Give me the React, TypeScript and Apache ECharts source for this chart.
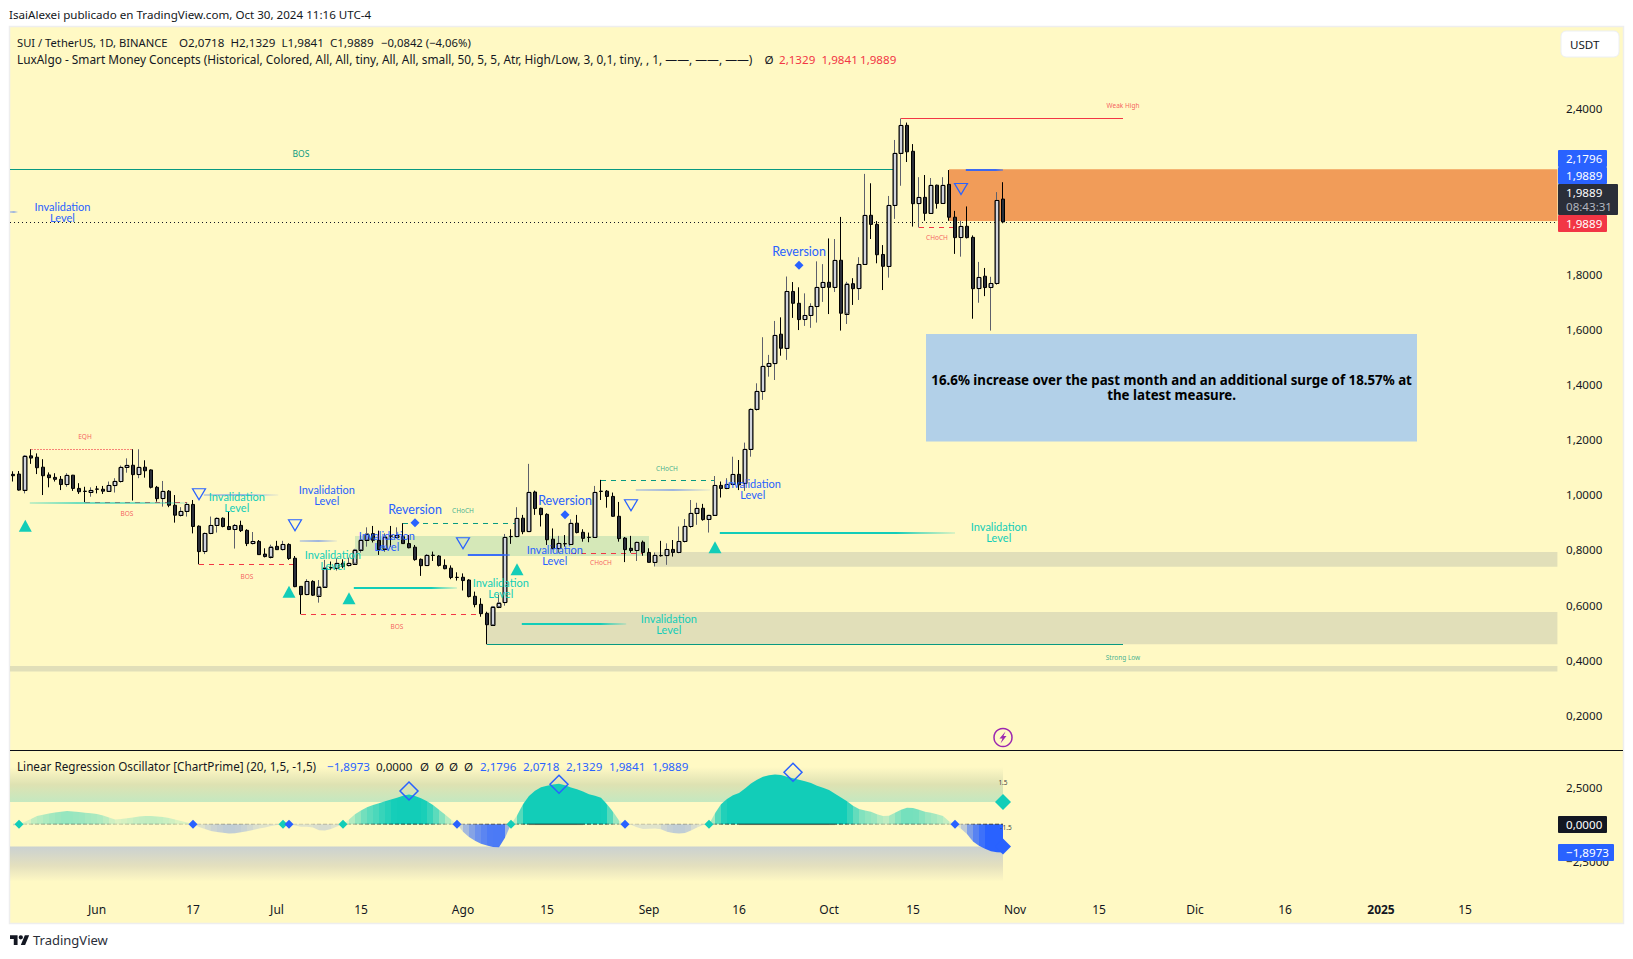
import React, { useEffect, useRef } from 'react';
import * as echarts from 'echarts';

const FF = '"Noto Sans", sans-serif';
const LF = 'Lato, "Noto Sans", sans-serif';
const INK = '#131722';
const BLUE = '#2962ff';
const TEAL = '#12cdb8';
const GREEN = '#089981';
const RED = '#f23645';

// [open, close, low, high]
const candlesMay = [
  [1.074,1.069,1.048,1.085],[1.075,1.017,1.015,1.086],[1.017,1.141,1.005,1.144],[1.141,1.133,1.112,1.165],[1.136,1.098,1.075,1.150],
  [1.100,1.069,.999,1.129],[1.072,1.062,1.027,1.081],[1.063,1.056,1.048,1.078],[1.056,1.037,1.017,1.068],[1.037,1.071,1.029,1.078],
  [1.071,1.023,1.014,1.072],[1.023,1.011,1.003,1.042],[1.013,1.012,.973,1.029],[1.009,1.016,.993,1.027],
];
const candlesJun = [
  [1.021,1.020,1.005,1.032],[1.020,1.013,1.003,1.032],[1.013,1.034,1.011,1.048],[1.033,1.049,1.008,1.060],[1.048,1.100,1.044,1.106],
  [1.100,1.107,1.080,1.132],[1.107,1.073,.979,1.165],[1.073,1.100,1.060,1.165],[1.100,1.087,1.062,1.125],[1.090,1.027,1.023,1.092],
  [1.027,.986,.975,1.032],[.986,1.013,.957,1.050],[1.013,.962,.955,1.017],[.962,.926,.899,.999],[.926,.940,.921,.955],
  [.940,.965,.921,.971],[.965,.885,.860,.981],[.886,.794,.748,.889],[.794,.860,.785,.863],[.860,.889,.857,.921],
  [.889,.915,.863,.918],[.915,.885,.882,.918],[.885,.874,.872,.938],[.874,.889,.805,.894],[.889,.870,.865,.906],
  [.871,.823,.814,.875],[.823,.831,.820,.865],[.831,.783,.782,.836],[.785,.776,.773,.806],[.776,.812,.769,.819],
];
const candlesJul = [
  [.813,.801,.800,.833],[.801,.820,.798,.833],[.820,.769,.764,.824],[.770,.667,.665,.778],[.668,.638,.567,.669],
  [.638,.686,.636,.694],[.686,.636,.633,.690],[.636,.667,.609,.691],[.667,.736,.663,.764],[.736,.735,.727,.758],
  [.734,.752,.725,.770],[.752,.740,.734,.766],[.743,.752,.740,.772],[.752,.801,.749,.804],[.801,.837,.790,.854],
  [.837,.859,.812,.882],[.859,.835,.827,.887],[.835,.801,.782,.870],[.805,.848,.793,.860],[.851,.850,.812,.887],
  [.846,.854,.841,.882],[.848,.823,.822,.897],[.823,.808,.806,.854],[.810,.765,.761,.818],[.766,.743,.706,.769],
  [.743,.781,.742,.785],[.781,.780,.760,.794],[.778,.744,.740,.781],[.744,.732,.730,.766],[.734,.700,.694,.744],
  [.701,.700,.689,.719],
];
const candlesAug = [
  [.701,.689,.653,.715],[.691,.631,.628,.694],[.632,.602,.592,.649],[.603,.569,.558,.625],[.570,.529,.458,.576],
  [.529,.595,.528,.597],[.595,.609,.589,.637],[.609,.846,.598,.858],[.849,.848,.822,.875],[.848,.915,.846,.955],
  [.915,.866,.857,.927],[.866,1.009,.865,1.112],[1.010,.950,.927,1.015],[.951,.928,.885,.953],[.929,.837,.818,.933],
  [.839,.805,.802,.878],[.805,.824,.788,.851],[.823,.822,.812,.854],[.820,.897,.818,.911],[.897,.863,.860,.927],
  [.864,.842,.830,.875],[.846,.845,.828,.863],[.846,1.009,.845,1.032],[1.013,1.012,.981,1.054],[1.013,.994,.953,1.017],
  [.994,.922,.920,1.008],[.922,.841,.830,.974],[.843,.801,.756,.847],[.806,.798,.790,.851],[.798,.828,.760,.830],
  [.828,.791,.779,.834],
];
const candlesSep = [
  [.791,.755,.754,.806],[.755,.781,.740,.791],[.780,.779,.776,.833],[.779,.802,.746,.824],[.802,.791,.776,.836],
  [.791,.831,.788,.885],[.831,.886,.827,.912],[.885,.933,.880,.981],[.933,.951,.891,.971],[.951,.910,.906,.967],
  [.911,.926,.863,.927],[.926,1.034,.923,1.068],[1.034,1.023,.990,1.048],[1.023,1.038,1.020,1.060],[1.038,1.074,1.036,1.138],
  [1.074,1.036,1.017,1.126],[1.042,1.165,1.014,1.189],[1.165,1.310,1.138,1.313],[1.310,1.375,1.305,1.404],[1.374,1.466,1.344,1.571],
  [1.466,1.476,1.428,1.507],[1.475,1.578,1.416,1.630],[1.582,1.531,1.504,1.643],[1.531,1.737,1.489,1.791],[1.737,1.694,1.641,1.771],
  [1.694,1.635,1.597,1.752],[1.635,1.650,1.612,1.730],[1.650,1.683,1.605,1.694],[1.682,1.752,1.624,1.846],[1.752,1.770,1.699,1.836],
];
const candlesOct = [
  [1.770,1.752,1.655,1.929],[1.752,1.850,1.735,1.927],[1.850,1.658,1.595,2.007],[1.658,1.765,1.619,1.772],[1.765,1.747,1.688,1.785],
  [1.747,1.835,1.706,1.861],[1.835,2.013,1.833,2.163],[2.013,1.980,1.927,2.129],[1.980,1.870,1.839,1.992],[1.871,1.828,1.742,1.905],
  [1.828,2.049,1.787,2.083],[2.049,2.238,2.000,2.286],[2.238,2.339,2.120,2.364],[2.339,2.243,2.206,2.349],[2.245,2.055,1.972,2.271],
  [2.055,2.078,1.969,2.151],[2.078,2.020,1.993,2.159],[2.020,2.122,2.018,2.148],[2.122,2.056,2.037,2.124],[2.056,2.122,2.054,2.151],
  [2.125,2.006,1.993,2.177],[2.006,1.932,1.873,2.029],[1.932,1.973,1.863,1.993],[1.973,1.932,1.929,2.045],[1.933,1.747,1.638,1.940],
  [1.747,1.788,1.696,1.844],[1.792,1.751,1.720,1.822],[1.751,1.766,1.595,1.790],[1.766,2.067,1.761,2.097],[2.0718,1.9889,1.9841,2.1329],
];
const candles = [...candlesMay, ...candlesJun, ...candlesJul, ...candlesAug, ...candlesSep, ...candlesOct];

const oscA = [-.1,0,.17,.36,.56,.64,.72,.79,.84,.89,.86,.83,.78,.74,.7,.6,.45,.32,.35,.4,.46,.52,.55,.56,.53,.49,.43,.33,.22,.12,.03,
  -.18,-.32,-.45,-.52,-.57,-.62,-.6,-.54,-.47,-.38,-.29,-.21,-.12,-.04,0,0,-.08,-.16,-.17,-.22,-.4,-.42,-.32,-.15,0];
const oscB = [.32,.68,.92,1.15,1.3,1.42,1.55,1.67,1.78,1.92,2.0,1.9,1.75,1.55,1.3,.98,.66,.32,0,-.5,-.85,-1.1,-1.3,-1.43,-1.53,-1.55,-.9,0,
  .6,1.35,1.9,2.25,2.5,2.6,2.68,2.72,2.62,2.48,2.36,2.2,2.02,1.92,1.78,1.35,.85,.25,0];
const oscC = [-.03,-.2,-.31,-.3,-.28,-.33,-.5,-.58,-.62,-.58,-.42,-.22,-.05,0,.75,1.35,1.7,1.95,2.1,2.4,2.75,3.0,3.2,3.3,3.35,3.32,3.2,3.09,3.0,2.9,2.78,
  2.6,2.45,2.3,2.05,1.8,1.55,1.25,1.03,.92,.85,.68,.55,.58,.78,.98,1.12,1.1,.98,.85,.78,.68,.55,.2,0,-.3,-.65,-1.15,-1.45,-1.65,-1.82,-1.88,-1.8973];
const osc = [...oscA, ...oscB, ...oscC];

const START = Date.UTC(2024, 4, 18);
const categories = Array.from({ length: 258 }, (_, i) => new Date(START + i * 864e5).toISOString().slice(0, 10));
const timeLabels: Record<string, string> = {
  '2024-06-01': 'Jun', '2024-06-17': '17', '2024-07-01': 'Jul', '2024-07-15': '15', '2024-08-01': 'Ago', '2024-08-15': '15',
  '2024-09-01': 'Sep', '2024-09-16': '16', '2024-10-01': 'Oct', '2024-10-15': '15', '2024-11-01': 'Nov', '2024-11-15': '15',
  '2024-12-01': 'Dic', '2024-12-16': '16', '2025-01-01': '{b|2025}', '2025-01-15': '15',
};
const priceTicks = [2.4, 1.8, 1.6, 1.4, 1.2, 1.0, 0.8, 0.6, 0.4, 0.2];
const oscTicks = [2.5, -2.5];

// [dayFrom, dayTo, priceBottom, priceTop]
const orangeZone = [[156, 257.4, 1.9923, 2.1796]];
const grayZones = [[107, 257.4, .7395, .7927], [79, 257.4, .458, .5752], [-0.5, 257.4, .359, .3795]];
const greenZone = [[57, 106, .7782, .8506]];
const noteBox = [[152.17, 234, 1.193, 1.5827]];
// [dayFrom, dayTo, price]
const redDashed = [[31, 46.7, .748], [48, 78, .5667], [93, 105, .7902], [151, 156.9, 1.969], [12, 29, .9726]];
const greenDashed = [[65, 83.7, .8965], [98, 117, 1.0524]];
const eqhLine = [[3, 20, 1.1647]];
const greenSolid = [[-0.5, 146.7, 2.1795], [79, 185, .458]];
const redSolid = [[148, 185, 2.364]];
const lastPriceLine = [[-0.5, 257.5, 1.9889]];
const tealFadeSoft = [[2.8, 29.2, .9715]];
const tealFadeStrong = [[56.8, 74, .6622], [84.8, 102.2, .5305], [117.8, 157, .8627]];
const blueFadePale = [[-0.5, 0.8, 2.025], [31.8, 44.2, .9992], [47.8, 54, .8325], [103.8, 116.2, 1.0185]];
const blueFadeStrong = [[75.8, 82.8, .7806], [158.8, 165, 2.177]];

const invalidationTeal = [[37.3, .9738], [53.3, .7636], [81.3, .6621], [109.3, .5316], [164.3, .8651]];
const invalidationBlue = [[8.25, 2.0249], [52.3, .9992], [62.3, .8324], [90.3, .7817], [123.3, 1.0209]];
const reversionLabels = [[67, .9484], [92, .9774], [131, 1.88]];
const reversionMarks = [[67, .8988], [92, .9278], [131, 1.8317]];
const triUp = [[2.05, .8879], [46, .6487], [56, .6248], [84, .73], [117, .8096]];
const triDown = [[31, 1.0017], [47, .8894], [75, .8241], [103, .9618], [158, 2.1083]];
const redTags: [number, number, string][] = [[12, 1.2105, 'EQH'], [19, .9329, 'BOS'], [39, .7031, 'BOS'], [64, .5218, 'BOS'], [98, .7527, 'CHoCH'], [154, 1.9307, 'CHoCH'], [185, 2.4091, 'Weak High']];
const greenTags: [number, number, string][] = [[75, .9423, 'CHoCH'], [109, 1.097, 'CHoCH'], [185, .4119, 'Strong Low']];
const bosTag: [number, number, string][] = [[48, 2.2351, 'BOS']];
const noteText: [number, number, string][] = [[193.1, 1.389, '16.6% increase over the past month and an additional surge of 18.57% at\nthe latest measure.']];

const oscMarksTeal = [[1, 0], [45, 0], [55, 0], [83, 0], [116, 0]];
const oscMarksBlue = [[30, 0], [46, 0], [74, 0], [102, 0], [157, 0]];
const oscHollow = [[66, 2.24], [91, 2.69], [130, 3.5]];
const oscEndTeal = [[165, 1.5]];
const oscEndBlue = [[165, -1.5]];
const oscLevelTags: [number, number, string][] = [[165, 2.79, '1.5'], [165.5, -.23, '-1.5']];

const zones = (name: string, data: number[][], fill: string, z: number) => ({
  name, type: 'custom', xAxisIndex: 1, yAxisIndex: 0, z, silent: true, clip: true, data,
  encode: { x: [0, 1], y: [2, 3] },
  renderItem: (_: any, api: any) => {
    const a = api.coord([api.value(0), api.value(3)]);
    const b = api.coord([api.value(1), api.value(2)]);
    return { type: 'rect', shape: { x: a[0], y: a[1], width: b[0] - a[0], height: b[1] - a[1] }, style: { fill } };
  },
});
const hLines = (name: string, data: number[][], stroke: string, lineWidth: number, lineDash: number[] | null, z: number) => ({
  name, type: 'custom', xAxisIndex: 1, yAxisIndex: 0, z, silent: true, clip: true, data,
  encode: { x: [0, 1], y: 2 },
  renderItem: (_: any, api: any) => {
    const a = api.coord([api.value(0), api.value(2)]);
    const b = api.coord([api.value(1), api.value(2)]);
    const y = Math.round(a[1]) + 0.5;
    return { type: 'line', shape: { x1: a[0], y1: y, x2: b[0], y2: y }, style: { stroke, lineWidth, lineDash: lineDash || undefined, fill: 'none' } };
  },
});
const fades = (name: string, data: number[][], rgb: string, stops: [number, number][], z: number) => ({
  name, type: 'custom', xAxisIndex: 1, yAxisIndex: 0, z, silent: true, clip: true, data,
  encode: { x: [0, 1], y: 2 },
  renderItem: (_: any, api: any) => {
    const a = api.coord([api.value(0), api.value(2)]);
    const b = api.coord([api.value(1), api.value(2)]);
    return {
      type: 'rect', shape: { x: a[0], y: Math.round(a[1]) - 1, width: b[0] - a[0], height: 2 },
      style: { fill: new echarts.graphic.LinearGradient(0, 0, 1, 0, stops.map(([offset, al]) => ({ offset, color: `rgba(${rgb},${al})` }))) },
    };
  },
});
const texts = (name: string, rows: any[], content: (r: any) => string, fill: string, font: string, z: number, lineHeight = 12) => ({
  name, type: 'custom', xAxisIndex: 1, yAxisIndex: 0, z, silent: true, clip: false, data: rows.map((r) => [r[0], r[1]]),
  encode: { x: 0, y: 1 },
  renderItem: (p: any, api: any) => {
    const c = api.coord([api.value(0), api.value(1)]);
    return { type: 'text', x: c[0], y: c[1], style: { text: content(rows[p.dataIndex]), fill, font, lineHeight, textAlign: 'center', textVerticalAlign: 'middle', align: 'center', verticalAlign: 'middle' } };
  },
});
const marks = (name: string, data: number[][], symbol: string, symbolSize: any, itemStyle: any, z: number, xAxisIndex = 1, yAxisIndex = 0, symbolRotate = 0) => ({
  name, type: 'scatter', xAxisIndex, yAxisIndex, z, silent: true, symbol, symbolSize, symbolRotate, itemStyle: { opacity: 1, ...itemStyle }, data, clip: false,
});

const t = (text: string, x: number, y: number, fill = INK, font = `11.6px ${FF}`, z = 100) => ({
  type: 'text', x, y, z, silent: true, style: { text, fill, font, textVerticalAlign: 'middle', verticalAlign: 'middle' },
});
const tag = (x: number, y: number, w: number, h: number, fill: string) => ({
  type: 'rect', z: 90, silent: true, shape: { x, y, width: w, height: h, r: 1 }, style: { fill },
});

function buildOption() {
  return {
    animation: false,
    backgroundColor: '#ffffff',
    textStyle: { fontFamily: FF },
    grid: [
      { left: 10, top: 27, width: 1548, height: 723, containLabel: false },
      { left: 10, top: 751, width: 1548, height: 144, containLabel: false },
    ],
    xAxis: [
      { type: 'category', gridIndex: 0, data: categories, show: false, boundaryGap: true },
      { type: 'value', gridIndex: 0, min: -0.5, max: 257.5, show: false, position: 'top' },
      {
        type: 'category', gridIndex: 1, data: categories, boundaryGap: true,
        axisLine: { show: false }, axisTick: { show: false }, splitLine: { show: false },
        axisLabel: {
          color: INK, fontSize: 12, fontFamily: FF, margin: 8, hideOverlap: false,
          interval: (_: number, v: string) => v in timeLabels,
          formatter: (v: string) => timeLabels[v] || '',
          rich: { b: { fontWeight: 'bold', fontSize: 12, color: INK, fontFamily: FF } },
        },
      },
      { type: 'value', gridIndex: 1, min: -0.5, max: 257.5, show: false, position: 'top' },
    ],
    yAxis: [
      {
        type: 'value', gridIndex: 0, position: 'right', min: 0.0749, max: 2.6954, scale: true,
        axisLine: { show: false }, axisTick: { show: false }, splitLine: { show: false },
        axisLabel: {
          color: INK, fontSize: 11.6, fontFamily: FF, margin: 8, customValues: priceTicks, showMinLabel: true, showMaxLabel: true,
          formatter: (v: number) => v.toFixed(4).replace('.', ','),
        },
      },
      {
        type: 'value', gridIndex: 1, position: 'right', min: -4.755, max: 4.93, scale: true,
        axisLine: { show: false }, axisTick: { show: false }, splitLine: { show: false },
        axisLabel: {
          color: INK, fontSize: 11.6, fontFamily: FF, margin: 8, customValues: oscTicks,
          formatter: (v: number) => v.toFixed(4).replace('.', ',').replace('-', '\u2212'),
        },
      },
    ],
    series: [
      zones('Discount zones', grayZones, '#e1dfb9', 1),
      zones('Supply zone', orangeZone, '#f19c59', 1),
      zones('Demand zone', greenZone, '#d5e8b8', 1),
      zones('Note box', noteBox, '#b2d0e8', 1),
      hLines('BOS break', redDashed, RED, 1, [5, 5], 2),
      hLines('CHoCH break', greenDashed, GREEN, 1, [5, 5], 2),
      hLines('EQH', eqhLine, 'rgba(242,54,69,0.6)', 1, [2, 1], 2),
      hLines('Strong levels', greenSolid, GREEN, 1, null, 2),
      hLines('Weak High', redSolid, RED, 1, null, 2),
      hLines('Last price', lastPriceLine, '#131722', 1, [1, 3], 2),
      {
        name: 'SUI / TetherUS', type: 'candlestick', xAxisIndex: 0, yAxisIndex: 0, z: 3, barWidth: 4, data: candles, silent: true,
        itemStyle: { color: '#d1d4dc', color0: '#2a2e39', borderColor: '#5d606b', borderColor0: '#000000', borderWidth: 1 },
      },
      {
        name: 'Rising bodies', type: 'custom', xAxisIndex: 0, yAxisIndex: 0, z: 4, silent: true, clip: true,
        data: candles.map((c, i) => [i, c[0], c[1]]).filter((r) => r[2] > r[1]),
        encode: { x: 0, y: [1, 2] },
        renderItem: (_: any, api: any) => {
          const a = api.coord([api.value(0), api.value(2)]);
          const b = api.coord([api.value(0), api.value(1)]);
          const y = Math.round(a[1]) + 0.5;
          return { type: 'rect', shape: { x: Math.round(a[0]) - 2, y, width: 4, height: Math.max(1, Math.round(b[1] - a[1])) }, style: { fill: 'none', stroke: '#000', lineWidth: 1 } };
        },
      },
      fades('Invalidation teal soft', tealFadeSoft, '18,205,184', [[0, .25], [.3, .6], [.7, .55], [1, .15]], 5),
      fades('Invalidation teal', tealFadeStrong, '18,205,184', [[0, 1], [.75, 1], [.85, .6], [1, .15]], 5),
      fades('Invalidation blue pale', blueFadePale, '41,98,255', [[0, .25], [.5, .45], [.8, .2], [1, .05]], 5),
      fades('Invalidation blue', blueFadeStrong, '41,98,255', [[0, .9], [.8, .9], [1, .4]], 5),
      marks('Swing up', triUp, 'triangle', [13, 12], { color: TEAL }, 6),
      marks('Swing down', triDown, 'triangle', [13, 11], { color: 'none', borderColor: BLUE, borderWidth: 1.2 }, 6, 1, 0, 180),
      marks('Reversion marks', reversionMarks, 'diamond', [9, 9], { color: BLUE }, 6),
      texts('Invalidation teal labels', invalidationTeal, () => 'Invalidation\nLevel', TEAL, `11px ${LF}`, 7, 11),
      texts('Invalidation blue labels', invalidationBlue, () => 'Invalidation\nLevel', BLUE, `11px ${LF}`, 7, 11),
      texts('Reversion labels', reversionLabels, () => 'Reversion', BLUE, `12.5px ${LF}`, 7),
      texts('Red tags', redTags, (r) => r[2], 'rgba(242,54,69,0.8)', `6.5px ${FF}`, 7),
      texts('Green tags', greenTags, (r) => r[2], 'rgba(8,153,129,0.8)', `6.5px ${FF}`, 7),
      texts('BOS tag', bosTag, (r) => r[2], GREEN, `8.5px ${FF}`, 7),
      texts('Note', noteText, (r) => r[2], '#000000', `bold 13.3px ${FF}`, 7, 14.5),

      // Oscillator pane
      {
        name: 'Upper band', type: 'custom', xAxisIndex: 3, yAxisIndex: 1, z: 1, silent: true, data: [[-0.5, 165, 1.5, 3.85]], encode: { x: [0, 1], y: [2, 3] },
        renderItem: (_: any, api: any) => {
          const a = api.coord([api.value(0), api.value(3)]);
          const b = api.coord([api.value(1), api.value(2)]);
          return { type: 'rect', shape: { x: a[0], y: a[1], width: b[0] - a[0], height: b[1] - a[1] }, style: { fill: new echarts.graphic.LinearGradient(0, 0, 0, 1, [{ offset: 0, color: 'rgba(222,224,180,0)' }, { offset: .5, color: 'rgba(222,226,178,1)' }, { offset: 1, color: 'rgba(196,232,192,1)' }]) } };
        },
      },
      {
        name: 'Lower band', type: 'custom', xAxisIndex: 3, yAxisIndex: 1, z: 1, silent: true, data: [[-0.5, 165, -3.86, -1.5]], encode: { x: [0, 1], y: [2, 3] },
        renderItem: (_: any, api: any) => {
          const a = api.coord([api.value(0), api.value(3)]);
          const b = api.coord([api.value(1), api.value(2)]);
          return { type: 'rect', shape: { x: a[0], y: a[1], width: b[0] - a[0], height: b[1] - a[1] }, style: { fill: new echarts.graphic.LinearGradient(0, 0, 0, 1, [{ offset: 0, color: 'rgba(202,209,209,1)' }, { offset: .55, color: 'rgba(228,224,190,1)' }, { offset: 1, color: 'rgba(228,224,190,0)' }]) } };
        },
      },
      {
        name: 'Linear Regression Oscillator', type: 'custom', xAxisIndex: 3, yAxisIndex: 1, z: 2, silent: true,
        data: osc.slice(0, -1).map((v, i) => [i, v, osc[i + 1]]),
        encode: { x: 0, y: [1, 2] },
        renderItem: (_: any, api: any) => {
          const i = api.value(0), v0 = api.value(1), v1 = api.value(2);
          const p0 = api.coord([i, 0]), p1 = api.coord([i, v0]), p2 = api.coord([i + 1, v1]), p3 = api.coord([i + 1, 0]);
          const m = Math.max(Math.abs(v0), Math.abs(v1));
          const al = Math.min(1, Math.max(0.15, Math.pow(m / 1.8, 1.15)));
          const col = v0 + v1 >= 0 ? `rgba(18,205,184,${al})` : `rgba(41,98,255,${al})`;
          const al2 = Math.min(.55, .06 + m * .2);
          return {
            type: 'group', children: [
              { type: 'polygon', shape: { points: [p0, p1, p2, p3] }, style: { fill: col } },
              { type: 'line', shape: { x1: p0[0], y1: p0[1], x2: p3[0], y2: p3[1] }, style: { stroke: `rgba(0,0,0,${al2})`, lineWidth: 1.5, lineDash: m > 2.2 ? undefined : [2, 2] } },
            ],
          };
        },
      },
      marks('Zero up', oscMarksTeal, 'diamond', [9, 9], { color: TEAL }, 6, 3, 1),
      marks('Zero down', oscMarksBlue, 'diamond', [9, 9], { color: BLUE }, 6, 3, 1),
      marks('Extremes', oscHollow, 'diamond', [18, 18], { color: 'none', borderColor: BLUE, borderWidth: 1.5 }, 6, 3, 1),
      marks('Upper level', oscEndTeal, 'diamond', [16, 16], { color: TEAL }, 6, 3, 1),
      marks('Lower level', oscEndBlue, 'diamond', [16, 16], { color: BLUE }, 6, 3, 1),
      {
        ...texts('Level tags', oscLevelTags, (r) => r[2], '#444', `6.5px ${FF}`, 7),
        xAxisIndex: 3, yAxisIndex: 1,
      },
    ],
    graphic: { elements: [
      { type: 'rect', z: -10, silent: true, shape: { x: 9.5, y: 26.5, width: 1614, height: 897 }, style: { fill: '#fff9c4', stroke: '#eeeeee', lineWidth: 1.5 } },
      { type: 'line', z: 80, silent: true, shape: { x1: 10, y1: 750.5, x2: 1623, y2: 750.5 }, style: { stroke: '#0b0e14', lineWidth: 1 } },
      t('IsaiAlexei publicado en TradingView.com, Oct 30, 2024 11:16 UTC-4', 9, 14.5, INK, `11.6px ${FF}`),
      t('SUI / TetherUS, 1D, BINANCE', 17, 42, INK, `11.2px ${FF}`),
      t('O2,0718', 179, 42), t('H2,1329', 230.5, 42), t('L1,9841', 281.5, 42), t('C1,9889', 330, 42), t('\u22120,0842 (\u22124,06%)', 381, 42, INK, `11.3px ${FF}`),
      t('LuxAlgo - Smart Money Concepts (Historical, Colored, All, All, tiny, All, All, small, 50, 5, 5, Atr, High/Low, 3, 0,1, tiny, , 1, \u2014\u2014, \u2014\u2014, \u2014\u2014)', 17, 59, INK, `11.85px ${FF}`),
      t('\u00d8', 764.5, 59),
      t('2,1329', 779, 59, RED), t('1,9841', 821.5, 59, RED), t('1,9889', 860, 59, RED),
      t('Linear Regression Oscillator [ChartPrime] (20, 1,5, -1,5)', 17, 766, INK, `11.7px ${FF}`),
      t('\u22121,8973', 327, 766, BLUE), t('0,0000', 376, 766),
      t('\u00d8', 420, 766), t('\u00d8', 435, 766), t('\u00d8', 449, 766), t('\u00d8', 464, 766),
      t('2,1796', 480, 766, BLUE), t('2,0718', 523, 766, BLUE), t('2,1329', 566, 766, BLUE), t('1,9841', 609, 766, BLUE), t('1,9889', 652, 766, BLUE),
      { type: 'rect', z: 90, silent: true, shape: { x: 1561, y: 31, width: 58, height: 26, r: 5 }, style: { fill: '#ffffff', stroke: '#eceff4', lineWidth: 1 } },
      t('USDT', 1570, 44.5),
      tag(1558, 150, 49, 17, BLUE), t('2,1796', 1566, 158.5, '#ffffff'),
      tag(1558, 167, 49, 17, BLUE), t('1,9889', 1566, 175.5, '#ffffff'),
      tag(1558, 215, 49, 17, RED), t('1,9889', 1566, 223.5, '#ffffff'),
      tag(1558, 184, 60, 31, '#2a2e39'), t('1,9889', 1566, 192, '#ffffff'), t('08:43:31', 1566, 206.5, '#b2b5be'),
      tag(1558, 816, 49, 17, '#131722'), t('0,0000', 1566, 824.5, '#ffffff'),
      tag(1558, 844, 56, 17, BLUE), t('\u22121,8973', 1566, 852.5, '#ffffff'),
      { type: 'circle', z: 90, silent: true, shape: { cx: 1003, cy: 737.5, r: 9 }, style: { fill: '#fff9c4', stroke: '#9c27b0', lineWidth: 1.5 } },
      { type: 'polygon', z: 91, silent: true, shape: { points: [[1005.5, 731.5], [999.5, 738.5], [1002.5, 738.5], [1000.5, 743.5], [1006.5, 736], [1003.5, 736]] }, style: { fill: '#9c27b0' } },
      { type: 'tvlogo', z: 90, silent: true, x: 10, y: 933, scaleX: 0.54, scaleY: 0.54, style: { fill: '#131722' } },
      t('TradingView', 33, 940, '#2a2e39', `13px ${FF}`),
    ] },
  };
}

export default function App() {
  const ref = useRef<HTMLDivElement>(null);
  useEffect(() => {
    document.body.style.margin = '0';
    echarts.graphic.registerShape('tvlogo', echarts.graphic.extendPath(
      'M14 22H7V11H0V4h14v18zM28 22h-8l7.5-18h8L28 22zM20 4a4 4 0 1 1 0 8a4 4 0 1 1 0-8z', {}) as any);
    const chart = echarts.init(ref.current!, undefined, { renderer: 'svg' });
    chart.setOption(buildOption() as any);
    return () => chart.dispose();
  }, []);
  return <div ref={ref} style={{ width: 1633, height: 959, position: 'absolute', left: 0, top: 0 }} />;
}
